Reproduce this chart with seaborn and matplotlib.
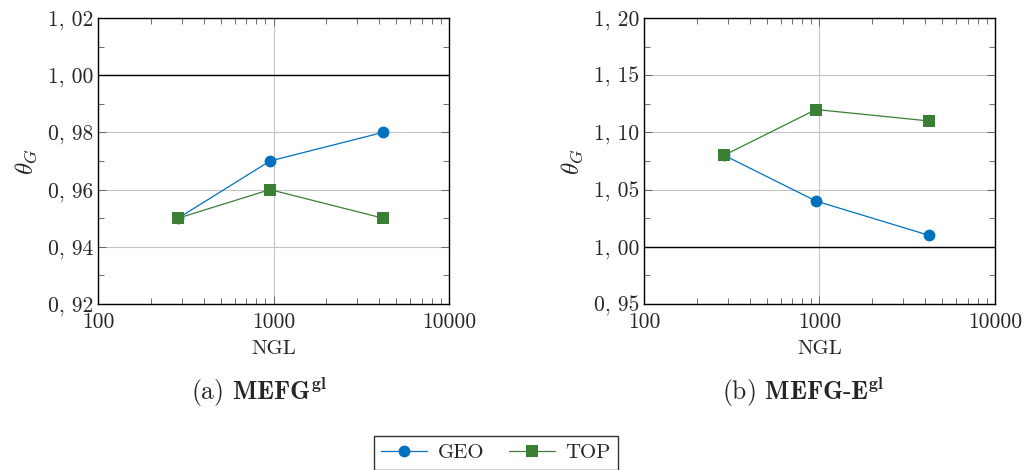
import matplotlib
matplotlib.use("Agg")
import matplotlib.pyplot as plt
import matplotlib.ticker as mticker
import seaborn as sns
import pandas as pd

# ---- data ----
ngl = [286, 955, 4208]
geo_a = [0.95, 0.97, 0.98]
top_a = [0.95, 0.96, 0.95]
geo_b = [1.08, 1.04, 1.01]
top_b = [1.08, 1.12, 1.11]
series_names = ["GEO", "TOP"]
captions = ["(a) $\\mathbf{MEFG^{gl}}$", "(b) $\\mathbf{MEFG\\text{-}E^{gl}}$"]
yticks_a = [0.92, 0.94, 0.96, 0.98, 1.00, 1.02]
yticks_b = [0.95, 1.00, 1.05, 1.10, 1.15, 1.20]
xticks = [100, 1000, 10000]

sns.set_style("ticks")
plt.rcParams["font.family"] = ["cmr10", "DejaVu Serif"]
plt.rcParams["mathtext.fontset"] = "cm"
plt.rcParams["axes.unicode_minus"] = False

BLUE = "#0071bf"
GREEN = "#3a7f34"

fig = plt.figure(figsize=(10.27, 4.70), dpi=100)
ax_a = fig.add_axes([98/1027, 166/470, 351/1027, 286/470])
ax_b = fig.add_axes([644/1027, 166/470, 351/1027, 286/470])

def draw(ax, geo, top, yticks, minor_step):
    df = pd.DataFrame({"NGL": ngl * 2, "theta": geo + top,
                       "series": [series_names[0]] * 3 + [series_names[1]] * 3})
    ax.axhline(1.0, color="black", lw=1.0, zorder=2)
    sns.lineplot(data=df[df.series == "GEO"], x="NGL", y="theta", ax=ax,
                 color=BLUE, marker="o", markersize=8.5, markeredgewidth=0,
                 lw=0.9, zorder=3, label="GEO", legend=False)
    sns.lineplot(data=df[df.series == "TOP"], x="NGL", y="theta", ax=ax,
                 color=GREEN, marker="s", markersize=8.5, markeredgewidth=0,
                 lw=0.9, zorder=4, label="TOP", legend=False)
    ax.set_xscale("log")
    ax.set_xlim(100, 10000)
    ax.set_ylim(yticks[0], yticks[-1])
    ax.set_xticks(xticks)
    ax.set_xticklabels([str(t) for t in xticks])
    ax.xaxis.set_minor_locator(mticker.LogLocator(base=10, subs=range(2, 10)))
    ax.xaxis.set_minor_formatter(mticker.NullFormatter())
    ax.set_yticks(yticks)
    ax.set_yticklabels([("%.2f" % t).replace(".", ", ") for t in yticks])
    ax.yaxis.set_minor_locator(mticker.MultipleLocator(minor_step))
    ax.grid(True, which="major", color="#c4c4c4", lw=0.8, zorder=0)
    ax.tick_params(which="both", direction="in", top=True, right=True,
                   labelsize=15.5, color="#555555")
    ax.tick_params(which="major", length=6, width=0.6)
    ax.tick_params(which="minor", length=4, width=0.6)
    ax.tick_params(axis="x", pad=6)
    for s in ax.spines.values():
        s.set_color("black")
        s.set_linewidth(1.0)
    ax.set_xlabel("NGL", fontsize=15, labelpad=6)
    ax.set_ylabel("$\\theta_G$", fontsize=18, labelpad=6)
    ax.set_axisbelow(True)

draw(ax_a, geo_a, top_a, yticks_a, 0.01)
draw(ax_b, geo_b, top_b, yticks_b, 0.025)

fig.text(259/1027, 1 - 392/470, captions[0], ha="center", va="center", fontsize=18.5)
fig.text(803/1027, 1 - 392/470, captions[1], ha="center", va="center", fontsize=18.5)

handles, labels = ax_a.get_legend_handles_labels()
leg = fig.legend(handles, labels, loc="center", bbox_to_anchor=(496/1027, 1 - 453/470),
                 ncol=2, frameon=True, fancybox=False, edgecolor="black",
                 fontsize=15, handlelength=2.2, columnspacing=1.2, borderpad=0.35,
                 handletextpad=0.5)
leg.get_frame().set_linewidth(1.0)

fig.savefig("out.png", dpi=100)
